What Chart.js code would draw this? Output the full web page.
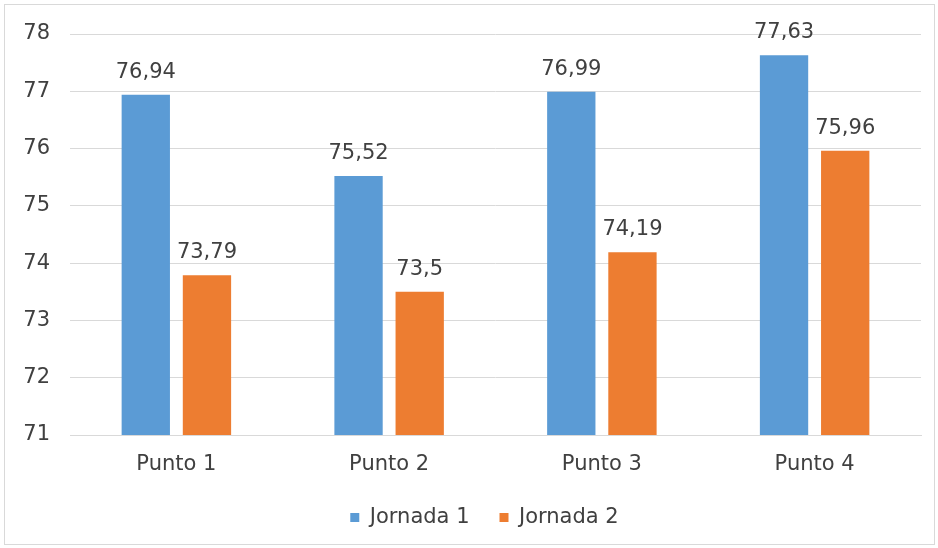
<!DOCTYPE html>
<html>
<head>
<meta charset="utf-8">
<script src="https://cdn.jsdelivr.net/npm/chart.js@4"></script>
<style>
  html, body { margin: 0; padding: 0; background: #fff; }
  #wrap { position: relative; width: 938px; height: 548px; }
  #frame { position: absolute; left: 4px; top: 4px; width: 929px; height: 539px; border: 1px solid #d9d9d9; pointer-events: none; }
</style>
</head>
<body>
<div id="wrap">
  <canvas id="chart" width="938" height="548"></canvas>
  <div id="frame"></div>
</div>
<script>
const categories = ['Punto 1', 'Punto 2', 'Punto 3', 'Punto 4']
const jornada1 = [76.94, 75.52, 76.99, 77.63]
const jornada2 = [73.79, 73.5, 74.19, 75.96]
const seriesNames = ['Jornada 1', 'Jornada 2']

const textColor = '#404040'
const fontFamily = '"DejaVu Sans", sans-serif'

const fmt = (v) => String(v).replace('.', ',')

// draws the value above each bar
const valueLabels = {
  id: 'valueLabels',
  afterDatasetsDraw(chart) {
    const ctx = chart.ctx
    ctx.save()
    ctx.font = `21px ${fontFamily}`
    ctx.fillStyle = textColor
    ctx.textAlign = 'center'
    ctx.textBaseline = 'bottom'
    chart.data.datasets.forEach((ds, i) => {
      chart.getDatasetMeta(i).data.forEach((bar, j) => {
        ctx.fillText(fmt(ds.data[j]), bar.x, bar.y - 12)
      })
    })
    ctx.restore()
  },
}

// center the legend under the plot area rather than the whole canvas
const legendUnderPlot = {
  id: 'legendUnderPlot',
  afterLayout(chart) {
    if (chart.legend) {
      chart.legend.left = chart.chartArea.left - 22
    }
  },
}

Chart.defaults.font.family = fontFamily
Chart.defaults.font.size = 21
Chart.defaults.color = textColor

new Chart(document.getElementById('chart'), {
  type: 'bar',
  data: {
    labels: categories,
    datasets: [
      {
        label: seriesNames[0],
        data: jornada1,
        backgroundColor: '#5b9bd5',
        categoryPercentage: 0.575,
        barPercentage: 0.79,
      },
      {
        label: seriesNames[1],
        data: jornada2,
        backgroundColor: '#ed7d31',
        categoryPercentage: 0.575,
        barPercentage: 0.79,
      },
    ],
  },
  options: {
    responsive: false,
    animation: false,
    layout: {
      padding: { left: 0, right: 17, top: 34, bottom: 10 },
    },
    plugins: {
      legend: {
        position: 'bottom',
        labels: {
          usePointStyle: true,
          pointStyle: 'rect',
          boxWidth: 9,
          boxHeight: 9,
          padding: 30,
          font: { size: 21 },
        },
      },
      tooltip: { enabled: false },
    },
    scales: {
      x: {
        grid: { display: false },
        border: { display: true, color: '#d9d9d9' },
        ticks: { padding: 9 },
        afterFit(scale) {
          scale.height = 42
        },
      },
      y: {
        min: 71,
        max: 78,
        grid: { color: '#d9d9d9', drawTicks: false },
        border: { display: false },
        ticks: { stepSize: 1, padding: 20 },
        afterFit(scale) {
          scale.width = 70
        },
      },
    },
  },
  plugins: [valueLabels, legendUnderPlot],
})
</script>
</body>
</html>
